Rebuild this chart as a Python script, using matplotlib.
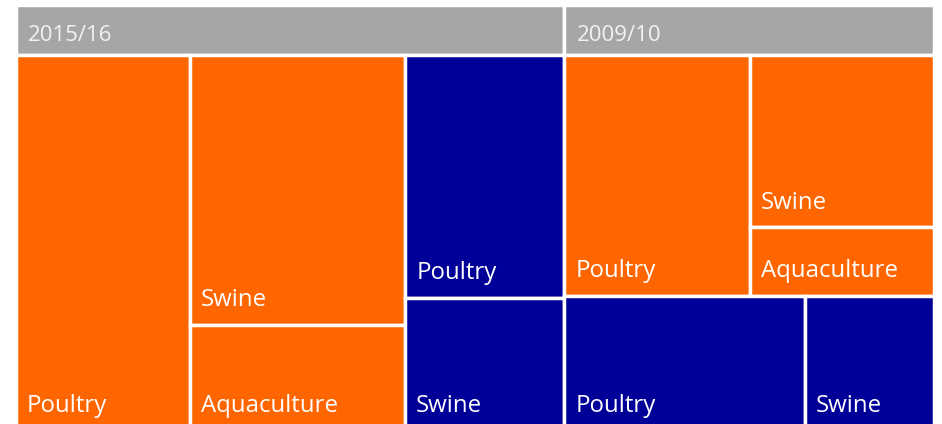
import matplotlib.pyplot as plt
from matplotlib.patches import Rectangle

# values (relative units)
years = ["2015/16", "2009/10"]
orange_species = ["Poultry", "Swine", "Aquaculture"]
orange_2015 = [65.3, 58.1, 22.6]
orange_2009 = [44.5, 31.7, 12.5]
blue_species = ["Poultry", "Swine"]
blue_2015 = [38.6, 21.0]
blue_2009 = [32.3, 17.3]

ORANGE = "#FF6600"
BLUE = "#000099"
GREY = "#A6A6A6"
FONT = ["Open Sans", "DejaVu Sans"]


def split(items, x, y, w, h):
    # peel the largest item off along the longer side, recurse on the rest
    if len(items) == 1:
        return [(items[0][1], (x, y, w, h))]
    total = sum(v for v, _ in items)
    v, p = items[0]
    f = v / total
    if w >= h:
        w1 = w * f
        return [(p, (x, y, w1, h))] + split(items[1:], x + w1, y, w - w1, h)
    h1 = h * f
    return [(p, (x, y, w, h1))] + split(items[1:], x, y + h1, w, h - h1)


fig = plt.figure(figsize=(9.42, 4.24), dpi=100)
ax = fig.add_axes([0, 0, 1, 1])
ax.set_xlim(0, 942)
ax.set_ylim(424, 0)
ax.axis("off")

data = {
    "2015/16": [(sum(orange_2015), (ORANGE, orange_species, orange_2015)),
                (sum(blue_2015), (BLUE, blue_species, blue_2015))],
    "2009/10": [(sum(orange_2009), (ORANGE, orange_species, orange_2009)),
                (sum(blue_2009), (BLUE, blue_species, blue_2009))],
}

header_h = 50
lw = 2.5
year_items = sorted([(sum(v for v, _ in data[yr]), yr) for yr in years], reverse=True)
for yr, (x, y, w, h) in split(year_items, 15.5, 5, 918, 425):
    ax.add_patch(Rectangle((x, y), w, header_h, facecolor=GREY, edgecolor="white", lw=lw))
    ax.text(x + 12.5, y + 36, yr, color="#F2F2F2", fontsize=16,
            family=FONT, va="baseline", ha="left")
    groups = sorted(data[yr], key=lambda t: -t[0])
    for (color, names, vals), (gx, gy, gw, gh) in split(groups, x, y + header_h, w, h - header_h):
        items = sorted(zip(vals, names), reverse=True)
        for name, (rx, ry, rw, rh) in split(items, gx, gy, gw, gh):
            ax.add_patch(Rectangle((rx, ry), rw, rh, facecolor=color, edgecolor="white", lw=lw))
            ax.text(rx + 11, ry + rh - 18.5, name, color="white", fontsize=17.3,
                    family=FONT, va="baseline", ha="left")

fig.savefig("out.png", dpi=100)
